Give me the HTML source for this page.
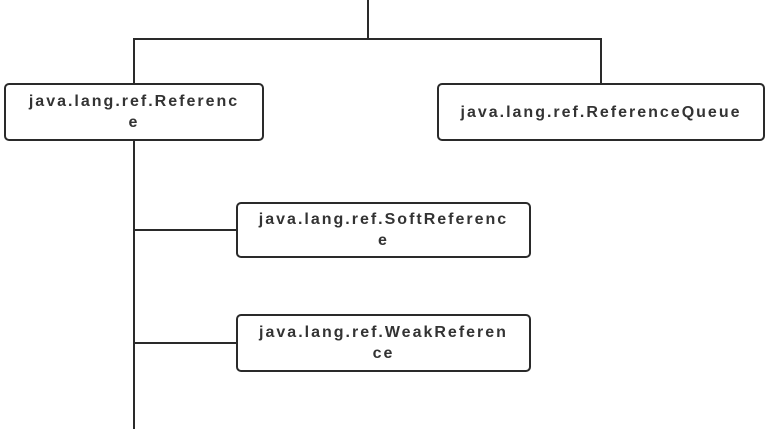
<!DOCTYPE html>
<html><head><style>
html,body{margin:0;padding:0;background:#fff;width:770px;height:429px;overflow:hidden;position:relative}
.l{position:absolute;background:#2a2a2a}
.b{position:absolute;box-sizing:border-box;border:2px solid #2a2a2a;border-radius:5px;background:#fff;display:flex;align-items:center;justify-content:center;text-align:center;font-family:"Liberation Sans",sans-serif;font-weight:bold;font-size:16px;letter-spacing:2px;color:#333;line-height:21px;white-space:nowrap}
</style></head><body>
<div class="l" style="left:367px;top:0;width:2px;height:40px"></div>
<div class="l" style="left:133px;top:38px;width:469px;height:2px"></div>
<div class="l" style="left:600px;top:38px;width:2px;height:46px"></div>
<div class="l" style="left:133px;top:38px;width:2px;height:391px"></div>
<div class="l" style="left:133px;top:229px;width:105px;height:2px"></div>
<div class="l" style="left:133px;top:342px;width:105px;height:2px"></div>
<div class="b" style="left:4px;top:83px;width:260px;height:58px">java.lang.ref.Referenc<br>e</div>
<div class="b" style="left:437px;top:83px;width:328px;height:58px">java.lang.ref.ReferenceQueue</div>
<div class="b" style="left:236px;top:202px;width:295px;height:56px">java.lang.ref.SoftReferenc<br>e</div>
<div class="b" style="left:236px;top:314px;width:295px;height:58px">java.lang.ref.WeakReferen<br>ce</div>
</body></html>
